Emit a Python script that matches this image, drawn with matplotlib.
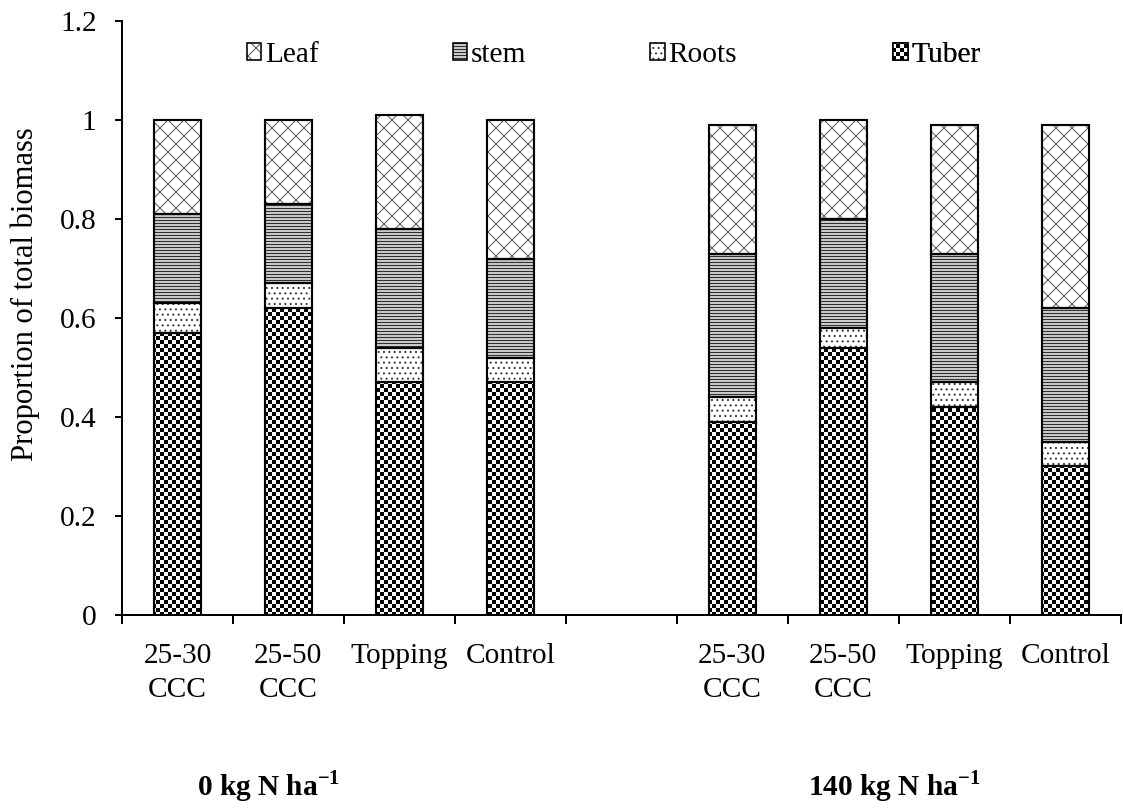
import numpy as np
import matplotlib
matplotlib.use("Agg")
import matplotlib.pyplot as plt
import matplotlib.hatch as mhatch
from matplotlib.path import Path
from matplotlib.patches import Patch
from matplotlib.legend_handler import HandlerTuple
from matplotlib.transforms import blended_transform_factory

# ---- data -------------------------------------------------------------
treatments = ["25-30\nCCC", "25-50\nCCC", "Topping", "Control"]
n_levels = ["0 kg N ha", "140 kg N ha"]

# proportions of total biomass, 0 kg N first, then 140 kg N
tuber = [0.57, 0.62, 0.47, 0.47, 0.39, 0.54, 0.42, 0.30]
roots = [0.06, 0.05, 0.07, 0.05, 0.05, 0.04, 0.05, 0.05]
stem  = [0.18, 0.16, 0.24, 0.20, 0.29, 0.22, 0.26, 0.27]
leaf  = [0.19, 0.17, 0.23, 0.28, 0.26, 0.20, 0.26, 0.37]

y_ticks = [0, 0.2, 0.4, 0.6, 0.8, 1.0, 1.2]

# ---- custom hatch patterns ------------------------------------------
DPI = 96


class CheckerHatch(mhatch.HatchPatternBase):
    """Black/white checkerboard, triggered by 'O'."""
    cells = 24

    def __init__(self, hatch, density):
        self.on = "O" in hatch
        self.num_vertices = (self.cells * self.cells // 2) * 5 if self.on else 0

    def set_vertices_and_codes(self, vertices, codes):
        n = self.cells
        s = 1.0 / n
        inset = 0.5 / DPI
        k = 0
        for i in range(n):
            for j in range(n):
                if (i + j) % 2 == 0:
                    x0, y0 = i * s + inset, j * s + inset
                    x1, y1 = (i + 1) * s - inset, (j + 1) * s - inset
                    vertices[k:k + 5] = [(x0, y0), (x1, y0), (x1, y1), (x0, y1), (x0, y0)]
                    codes[k:k + 5] = [Path.MOVETO, Path.LINETO, Path.LINETO,
                                      Path.LINETO, Path.CLOSEPOLY]
                    k += 5


class FineHorizontalHatch(mhatch.HatchPatternBase):
    """Tight horizontal ruling, triggered by '|'."""
    lines = 32

    def __init__(self, hatch, density):
        self.num_lines = self.lines if "|" in hatch else 0
        self.num_vertices = self.num_lines * 2

    def set_vertices_and_codes(self, vertices, codes):
        steps = (np.arange(self.num_lines) + 0.5) / self.num_lines
        vertices[0::2, 0] = 0.0
        vertices[0::2, 1] = steps
        vertices[1::2, 0] = 1.0
        vertices[1::2, 1] = steps
        codes[0::2] = Path.MOVETO
        codes[1::2] = Path.LINETO


mhatch._hatch_types = [mhatch.HorizontalHatch, mhatch.NorthEastHatch,
                       mhatch.SouthEastHatch, mhatch.SmallCircles,
                       mhatch.SmallFilledCircles, mhatch.Stars,
                       CheckerHatch, FineHorizontalHatch]

plt.rcParams["font.family"] = ["Liberation Serif", "DejaVu Serif"]
plt.rcParams["mathtext.fontset"] = "custom"
plt.rcParams["mathtext.rm"] = "Liberation Serif"
plt.rcParams["mathtext.bf"] = "Liberation Serif:bold"
plt.rcParams["hatch.linewidth"] = 0.75

FS = 22

fig = plt.figure(figsize=(1123 / DPI, 808 / DPI), dpi=DPI)
ax = fig.add_axes([0.1086, 0.2389, 0.8894, 0.7351])

# bar positions: two groups of four with one empty slot between them
n_t = len(treatments)
x = np.array([g * (n_t + 1) + i for g in range(len(n_levels)) for i in range(n_t)])
width = 0.42

segments = [
    ("Tuber", tuber, "white", "black", "O"),
    ("Roots", roots, "white", "#333333", "..."),
    ("stem", stem, "#c8c8c8", "#303030", "|"),
    ("Leaf", leaf, "white", "#5a5a5a", "xx"),
]

bottom = np.zeros(len(x))
handles = {}
for name, vals, face, hcol, hatch in segments:
    vals = np.asarray(vals)
    ax.bar(x, vals, width, bottom=bottom, color=face, edgecolor=hcol,
           linewidth=0, hatch=hatch, zorder=2)
    ax.bar(x, vals, width, bottom=bottom, fill=False, edgecolor="black",
           linewidth=1.6, zorder=3)
    bottom += vals
    handles[name] = (Patch(facecolor=face, edgecolor=hcol, linewidth=0, hatch=hatch),
                     Patch(fill=False, edgecolor="black", linewidth=1.2))

# axes styling
ax.set_xlim(-0.5, len(n_levels) * (n_t + 1) - 1.5)
ax.set_ylim(0, 1.2)
ax.set_yticks(y_ticks)
ax.set_yticklabels([f"{t:g}" for t in y_ticks])
ax.set_xticks(x)
ax.set_xticklabels(treatments * len(n_levels), linespacing=1.4)
ax.set_xticks(np.arange(-0.5, len(n_levels) * (n_t + 1) - 1, 1.0), minor=True)

for side in ("top", "right"):
    ax.spines[side].set_visible(False)
for side in ("left", "bottom"):
    ax.spines[side].set_linewidth(1.5)

ax.tick_params(axis="x", which="major", length=0, pad=21, labelsize=FS)
ax.tick_params(axis="x", which="minor", length=7, width=1.5, direction="out")
ax.tick_params(axis="y", which="major", length=5, width=1.5, direction="out",
               pad=14, labelsize=FS)

ax.set_ylabel("Proportion of total biomass", fontsize=23)
ax.yaxis.set_label_coords(-0.082, 0.54)

# legend entries laid out along the top of the plot
legend_order = ["Leaf", "stem", "Roots", "Tuber"]
legend_x = [0.125, 0.331, 0.529, 0.772]
for name, lx in zip(legend_order, legend_x):
    leg = ax.legend([handles[name]], [name], loc="center left",
                    bbox_to_anchor=(lx, 0.943), frameon=False, fontsize=FS,
                    handler_map={tuple: HandlerTuple(ndivide=1, pad=0)},
                    handlelength=0.5, handleheight=0.5, handletextpad=0.12,
                    borderpad=0, borderaxespad=0)
    ax.add_artist(leg)

# nitrogen level labels under each group
trans = blended_transform_factory(ax.transData, fig.transFigure)
for gx, label in zip([0.82, 6.46], n_levels):
    fig.text(gx, 0.016, label + r"$^{\mathbf{-1}}$", transform=trans,
             ha="center", va="baseline", fontsize=FS, fontweight="bold")

fig.savefig("out.png", dpi=DPI)
